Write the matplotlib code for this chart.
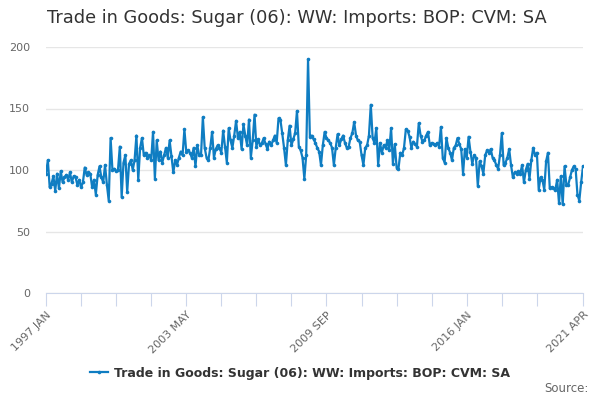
import matplotlib
matplotlib.use("Agg")
import matplotlib.pyplot as plt
import numpy as np
import pandas as pd

TITLE = "Trade in Goods: Sugar (06): WW: Imports: BOP: CVM: SA"
SERIES_NAME = "Trade in Goods: Sugar (06): WW: Imports: BOP: CVM: SA"

# monthly values, 1997 JAN .. 2021 APR
values_1997_2002 = [
    97, 108, 86, 89, 95, 83, 97, 85, 99, 90, 94, 96,
    92, 98, 90, 95, 94, 88, 92, 86, 90, 102, 96, 98,
    97, 86, 92, 80, 96, 103, 94, 90, 104, 88, 75, 126,
    100, 101, 99, 100, 119, 78, 106, 112, 82, 105, 108, 100,
    108, 128, 92, 118, 126, 112, 114, 110, 112, 108, 131, 93,
    124, 108, 115, 106, 112, 118, 110, 124, 111, 98, 108, 104,
]
values_2003_2008 = [
    110, 115, 112, 133, 115, 116, 114, 110, 118, 103, 120, 112,
    112, 143, 118, 110, 108, 118, 131, 110, 117, 120, 118, 114,
    132, 119, 106, 134, 124, 118, 128, 140, 126, 131, 117, 137,
    128, 120, 141, 110, 124, 145, 119, 125, 120, 122, 126, 121,
    117, 123, 120, 124, 128, 122, 142, 141, 130, 118, 104, 124,
    136, 120, 125, 130, 148, 119, 116, 110, 93, 112, 190, 127,
]
values_2009_2014 = [
    128, 125, 122, 118, 115, 104, 120, 131, 126, 124, 122, 118,
    104, 118, 129, 120, 125, 128, 122, 118, 119, 126, 130, 139,
    128, 124, 123, 112, 104, 118, 120, 128, 153, 126, 122, 134,
    104, 122, 114, 120, 118, 124, 116, 134, 105, 121, 102, 101,
    114, 112, 118, 133, 132, 127, 118, 123, 121, 119, 138, 128,
    123, 124, 128, 131, 120, 122, 121, 120, 122, 119, 135, 110,
]
values_2015_2021 = [
    106, 126, 118, 114, 108, 118, 120, 126, 121, 117, 97, 117,
    110, 127, 115, 105, 112, 110, 87, 107, 103, 97, 112, 116,
    114, 117, 110, 108, 104, 101, 112, 130, 104, 106, 110, 117,
    104, 94, 98, 97, 99, 97, 104, 90, 100, 105, 93, 108,
    118, 112, 114, 84, 94, 92, 84, 107, 114, 85, 86, 85,
    84, 92, 73, 95, 72, 103, 88, 88, 94, 100, 103, 101,
    80, 75, 90, 103,
]

values = values_1997_2002 + values_2003_2008 + values_2009_2014 + values_2015_2021
months = pd.period_range("1997-01", periods=len(values), freq="M")
labels = [f"{p.year} {p.strftime('%b').upper()}" for p in months]

y_ticks = [0, 50, 100, 150, 200]
blue = "#0f7dc2"
grey_text = "#666666"

fig = plt.figure(figsize=(6, 4), dpi=100)
ax = fig.add_axes([46 / 600, 1 - 293 / 400, (583 - 46) / 600, (293 - 47) / 400])

x = np.arange(len(values))
line, = ax.plot(x, values, color=blue, lw=1.6, marker="o", ms=2.6,
                markeredgewidth=0, label=SERIES_NAME, zorder=3)

ax.set_xlim(0, len(values) - 1)
ax.set_ylim(0, 200)
ax.set_yticks(y_ticks)
ax.set_yticklabels([str(v) for v in y_ticks], fontsize=8, color=grey_text)
ax.tick_params(axis="y", length=0, pad=11.5)
ax.grid(axis="y", color="#e6e6e6", lw=1)
ax.set_axisbelow(True)

for side in ["top", "right", "left"]:
    ax.spines[side].set_visible(False)
ax.spines["bottom"].set_color("#ccd6eb")

# ticks every 19 months, labels every 4th tick, plus the last month
tick_pos = list(range(0, len(values), 19))
tick_pos = [t for t in tick_pos if t < len(values) - 10] + [len(values) - 1]
ax.set_xticks(tick_pos)
tick_labels = []
for t in tick_pos:
    if t % 76 == 0 or t == len(values) - 1:
        tick_labels.append(labels[t])
    else:
        tick_labels.append("")
ax.set_xticklabels(tick_labels, rotation=45, ha="right", rotation_mode="anchor",
                   fontsize=8, color=grey_text)
ax.tick_params(axis="x", length=9, color="#ccd6eb", pad=3)

fig.text(47 / 600, 1 - 18 / 400, TITLE, fontsize=12.8, color="#333333",
         ha="left", va="center")

fig.legend(handles=[line], loc="center", bbox_to_anchor=(0.5, 1 - 373 / 400),
           frameon=False, prop={"weight": "bold", "size": 9}, handlelength=1.4,
           handletextpad=0.5, labelcolor="#333333")

fig.text(589 / 600, 1 - 389 / 400, "Source:", fontsize=8.5, color=grey_text,
         ha="right", va="center")

fig.savefig("out.png", dpi=100)
